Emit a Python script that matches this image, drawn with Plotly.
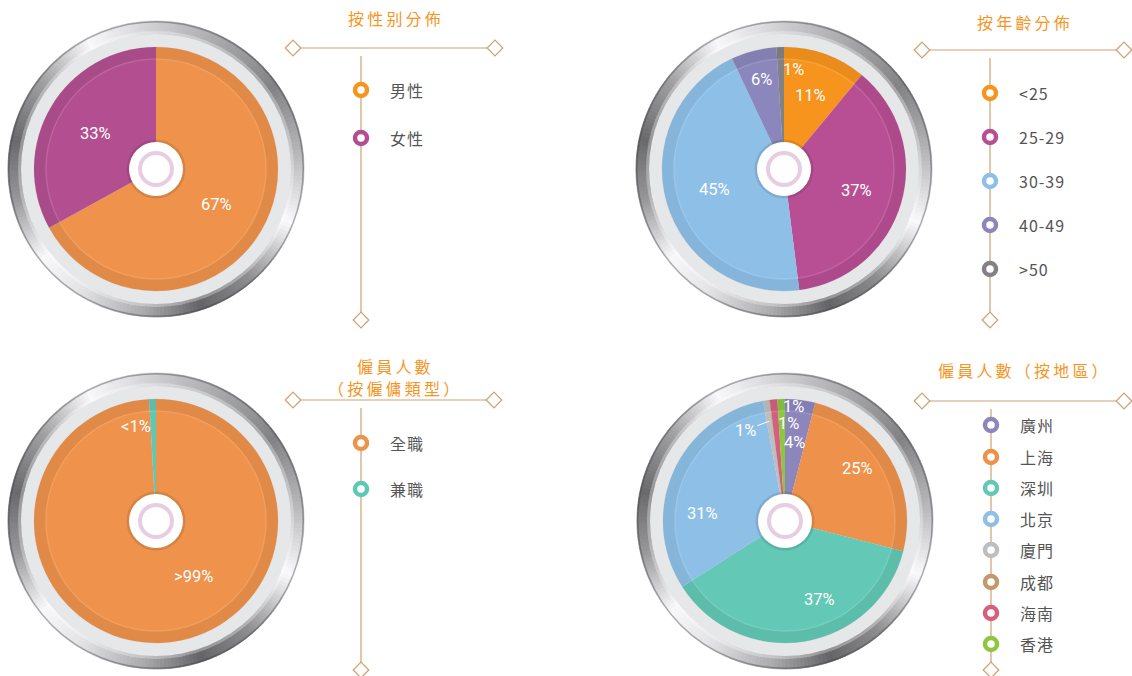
import math
import plotly.graph_objects as go

W, H = 1132, 676

# ---------------- data ----------------
gender_labels = ["男性", "女性"]
gender_values = [67, 33]
gender_colors = ["#EE924C", "#B34F91"]
gender_legend_colors = ["#F7941D", "#B34F91"]

age_labels = ["<25", "25-29", "30-39", "40-49", ">50"]
age_values = [11, 37, 45, 6, 1]
age_colors = ["#F7941D", "#B84F94", "#8EBFE7", "#8B86BB", "#808285"]

type_labels = ["全職", "兼職"]
type_values = [99.1, 0.9]
type_text = [">99%", "<1%"]
type_colors = ["#EE924C", "#5FC8B5"]

region_labels = ["廣州", "上海", "深圳", "北京", "廈門", "成都", "海南", "香港"]
region_values = [4, 25, 37, 31.2, 0.8, 0.1, 1, 1]
region_text = ["4%", "25%", "37%", "31%", "1%", "", "1%", "1%"]
region_colors = ["#8C86BD", "#EE914B", "#63C8B5", "#8EBFE6", "#BDBEC0", "#C1996B", "#D4607E", "#8DC63F"]

titles = [["按性别分佈"], ["按年齡分佈"], ["僱員人數", "（按僱傭類型）"], ["僱員人數（按地區）"]]

# ---------------- layout / style ----------------
LINE_C = "#CDA271"
TITLE_C = "#F7941D"
TEXT_C = "#555555"
CJK = "Noto Sans CJK TC"
NUM = "Roboto"

charts = [
    dict(labels=gender_labels, values=gender_values, colors=gender_colors,
         legend_colors=gender_legend_colors,
         text=[f"{v}%" for v in gender_values], center=(156, 169),
         lab=[(70, .5, "center", None), (70, .5, "center", None)],
         title=titles[0], title_y=[18], hline=(48, 293, 495), vx=361, vtop=56, vbot=320,
         items_y=[90, 138]),
    dict(labels=age_labels, values=age_values, colors=age_colors, legend_colors=age_colors,
         text=[f"{v}%" for v in age_values], center=(784, 169),
         lab=[(78, .5, "center", None), (76, .5, "center", None), (72, .5, "center", None),
              (92, .5, "center", None), (100, .5, "left", None)],
         title=titles[1], title_y=[22], hline=(50, 922, 1124), vx=990, vtop=58, vbot=320,
         items_y=[93, 137, 181, 225, 269]),
    dict(labels=type_labels, values=type_values, colors=type_colors, legend_colors=type_colors,
         text=type_text, center=(156, 521),
         lab=[(67, .41, "center", None), (95, .5, "right", None)],
         title=titles[2], title_y=[366, 388], hline=(400, 293, 494), vx=361, vtop=408, vbot=670,
         items_y=[443, 489]),
    dict(labels=region_labels, values=region_values, colors=region_colors, legend_colors=region_colors,
         text=region_text, center=(785, 521),
         lab=[(79, .5, "center", None), (90, .44, "center", None), (86, .39, "center", None),
              (83, .34, "center", None), (101, .5, "center", (-24, 9)), (0, .5, "center", None),
              (98, .5, "left", None), (115, .5, "left", None)],
         title=titles[3], title_y=[370], hline=(401, 922, 1124), vx=991, vtop=409, vbot=670,
         items_y=[425, 457, 488, 519, 550, 582, 613, 644]),
]

R_PIE, R_BAND, R_METAL_IN, R_METAL = 122, 135, 134, 148

# metallic ring shading stops (angle clockwise from top, grey level)
metal_stops = [(0, 205), (25, 170), (55, 130), (85, 185), (112, 250), (140, 140), (162, 100),
               (185, 170), (212, 228), (232, 248), (258, 150), (282, 105), (308, 160),
               (332, 248), (350, 222), (360, 205)]


def metal_color(a):
    for (a0, g0), (a1, g1) in zip(metal_stops[:-1], metal_stops[1:]):
        if a0 <= a <= a1:
            g = g0 + (g1 - g0) * (a - a0) / (a1 - a0)
            gi = int(round(g))
            return f"rgb({gi},{gi},{min(255, gi + 3)})"
    return "rgb(205,205,208)"


N_METAL = 240
metal_cols = [metal_color((i + 0.5) * 360 / N_METAL) for i in range(N_METAL)]


def dom(cx, cy, r):
    return dict(x=[(cx - r) / W, (cx + r) / W], y=[1 - (cy + r) / H, 1 - (cy - r) / H])


def ring(cx, cy, r, color, width):
    return dict(type="circle", xref="x", yref="y", x0=cx - r, x1=cx + r, y0=cy - r, y1=cy + r,
                line=dict(color=color, width=width))


fig = go.Figure()
shapes = []
annotations = []

for ch in charts:
    cx, cy = ch["center"]
    # metallic ring
    fig.add_trace(go.Pie(values=[1] * N_METAL, marker=dict(colors=metal_cols,
                         line=dict(color=metal_cols, width=0.8)),
                         hole=R_METAL_IN / R_METAL, sort=False, direction="clockwise",
                         textinfo="none", hoverinfo="skip", domain=dom(cx, cy, R_METAL),
                         showlegend=False))
    # light band
    fig.add_trace(go.Pie(values=[1], marker=dict(colors=["#E6E7E9"], line=dict(width=0)),
                         textinfo="none", hoverinfo="skip", domain=dom(cx, cy, R_BAND),
                         showlegend=False))
    # data pie
    fig.add_trace(go.Pie(labels=ch["labels"], values=ch["values"],
                         marker=dict(colors=ch["colors"], line=dict(width=0)),
                         sort=False, direction="clockwise", rotation=0,
                         textinfo="none", hoverinfo="label+percent",
                         domain=dom(cx, cy, R_PIE), showlegend=False))

    # metal ring edges (radial shading)
    shapes.append(ring(cx, cy, 147.3, "rgba(60,60,65,0.4)", 1.5))
    shapes.append(ring(cx, cy, 136.5, "rgba(255,255,255,0.3)", 3))
    # inner shading of the pie
    shapes.append(ring(cx, cy, 116.5, "rgba(0,0,0,0.05)", 12))
    shapes.append(ring(cx, cy, 110, "rgba(255,255,255,0.12)", 1.5))
    # centre icon
    for rr, fill in [(29.5, "rgba(0,0,0,0.10)"), (27, "#FFFFFF")]:
        shapes.append(dict(type="circle", xref="x", yref="y", x0=cx - rr, x1=cx + rr,
                           y0=cy - rr, y1=cy + rr, fillcolor=fill, line=dict(width=0)))
    shapes.append(ring(cx, cy, 16, "#E7CDE2", 4))

    # percentage labels computed from the data
    total = sum(ch["values"])
    cum = 0.0
    for v, txt, (lr, frac, xa, arrow) in zip(ch["values"], ch["text"], ch["lab"]):
        ang = (cum + v * frac) / total * 2 * math.pi
        cum += v
        if not txt:
            continue
        x = cx + lr * math.sin(ang)
        y = cy - lr * math.cos(ang)
        a = dict(x=x, y=y, xref="x", yref="y", text=txt, xanchor=xa, yanchor="middle",
                 font=dict(family=NUM, size=16.5, color="white"), showarrow=False)
        if arrow:
            a.update(showarrow=True, arrowhead=0, arrowwidth=1, arrowcolor="white",
                     ax=arrow[0], ay=arrow[1], standoff=0, xanchor="center")
        annotations.append(a)

    # title
    hy, hx0, hx1 = ch["hline"]
    for t, ty in zip(ch["title"], ch["title_y"]):
        annotations.append(dict(x=(hx0 + hx1) / 2, y=ty, xref="x", yref="y",
                                text="\u2009".join(list(t)), showarrow=False,
                                font=dict(family=CJK, size=16, color=TITLE_C)))
    # horizontal rule with diamonds
    fig.add_trace(go.Scatter(x=[hx0, hx1], y=[hy, hy], mode="lines+markers",
                             line=dict(color=LINE_C, width=1.2),
                             marker=dict(symbol="diamond", size=12, color="white",
                                         line=dict(color=LINE_C, width=1.2)),
                             hoverinfo="skip", showlegend=False))
    # vertical rule with bottom diamond
    vx = ch["vx"]
    fig.add_trace(go.Scatter(x=[vx, vx], y=[ch["vtop"], ch["vbot"] - 6], mode="lines",
                             line=dict(color=LINE_C, width=1.2), hoverinfo="skip", showlegend=False))
    fig.add_trace(go.Scatter(x=[vx], y=[ch["vbot"]], mode="markers",
                             marker=dict(symbol="diamond", size=12, color="white",
                                         line=dict(color=LINE_C, width=1.2)),
                             hoverinfo="skip", showlegend=False))
    # legend items
    fig.add_trace(go.Scatter(x=[vx] * len(ch["items_y"]), y=ch["items_y"], mode="markers",
                             marker=dict(symbol="circle", size=12, color="white",
                                         line=dict(color=ch["legend_colors"], width=4.5)),
                             hoverinfo="skip", showlegend=False))
    for lab, iy in zip(ch["labels"], ch["items_y"]):
        annotations.append(dict(x=vx + 27, y=iy, xref="x", yref="y", text="\u200a".join(list(lab)),
                                xanchor="left", yanchor="middle", showarrow=False,
                                font=dict(family=CJK, size=16, color=TEXT_C)))

fig.update_layout(
    width=W, height=H, margin=dict(l=0, r=0, t=0, b=0),
    paper_bgcolor="white", plot_bgcolor="rgba(0,0,0,0)",
    xaxis=dict(range=[0, W], visible=False, fixedrange=True, domain=[0, 1]),
    yaxis=dict(range=[H, 0], visible=False, fixedrange=True, domain=[0, 1]),
    shapes=shapes, annotations=annotations, showlegend=False,
)

fig.write_html("out.html", config={"displayModeBar": False},
               post_script="document.body.style.margin='0px';document.body.style.padding='0px';"
                           "document.body.style.overflow='hidden';")
